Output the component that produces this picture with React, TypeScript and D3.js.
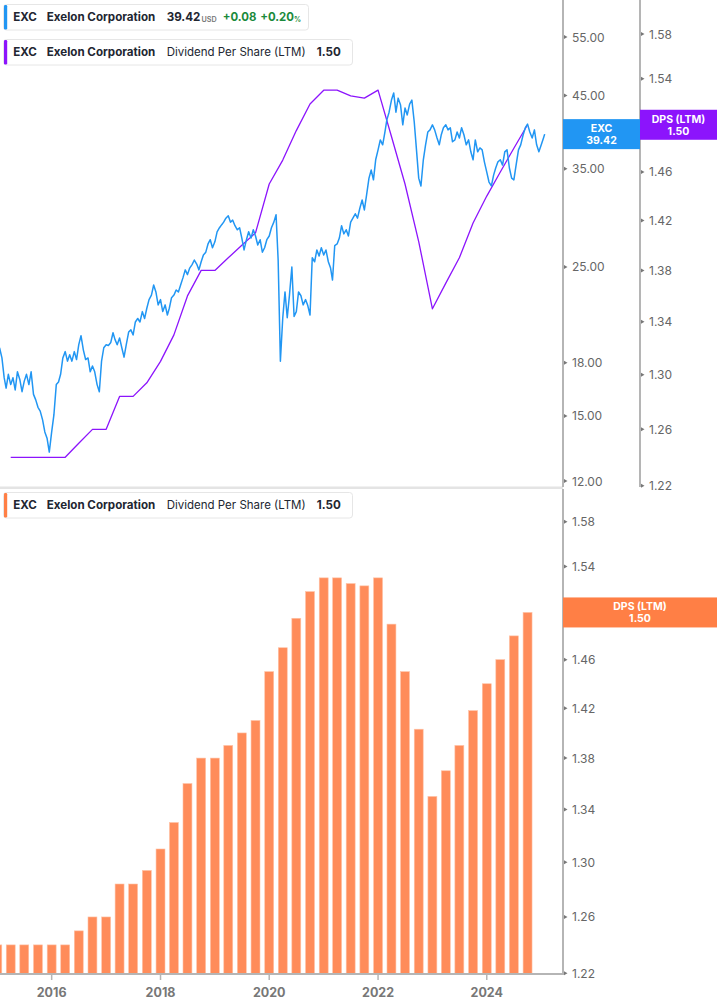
import React from "react";
import * as d3 from "d3";

// ---------- DATA ----------
// EXC price (USD), semi-monthly samples starting 2015-01-16 (1st and 16th of each month)
const priceValues: number[] = [
  // 2015 (from Jan 16)
  18.95, 18.3, 17.1, 16.5, 17.3, 16.7, 17.1, 16.4, 17.45, 17.0, 16.3, 16.9, 17.3, 16.7, 17.45, 16.15, 15.85, 15.45, 15.25, 14.8, 14.2, 13.9, 13.25,
  // 2016
  14.2, 15.05, 16.7, 16.85, 17.3, 18.3, 18.7, 18.1, 18.5, 18.1, 18.7, 18.2, 19.15, 19.75, 18.8, 18.2, 18.3, 17.45, 17.8, 17.45, 16.7, 16.3, 18.1, 18.95,
  // 2017
  19.15, 19.1, 19.3, 19.95, 19.5, 19.15, 19.6, 18.95, 18.35, 19.15, 20.0, 20.15, 19.8, 20.7, 20.95, 20.7, 21.45, 20.95, 21.7, 22.35, 22.7, 23.5, 22.95, 21.95,
  // 2018
  22.35, 21.45, 21.95, 21.2, 21.7, 22.5, 22.7, 23.1, 22.95, 23.5, 24.1, 24.75, 24.35, 24.9, 25.2, 25.6, 25.25, 24.75, 25.45, 26.05, 26.3, 27.05, 27.45, 26.7,
  // 2019
  27.25, 28.2, 28.6, 28.9, 29.15, 29.55, 29.8, 29.15, 29.35, 28.8, 28.4, 28.6, 27.6, 26.5, 27.45, 28.2, 27.6, 28.4, 27.8, 26.95, 27.45, 26.3, 26.7, 27.45,
  // 2020
  27.8, 28.6, 29.15, 29.9, 25.6, 18.1, 21.0, 22.95, 21.0, 22.7, 25.0, 21.1, 21.45, 22.95, 22.65, 21.95, 22.35, 21.9, 21.2, 25.8, 25.45, 26.5, 25.95, 26.7,
  // 2021
  26.05, 26.5, 25.45, 24.9, 23.9, 26.9, 27.05, 27.6, 28.8, 28.0, 28.4, 27.8, 29.15, 29.55, 30.0, 29.55, 30.6, 31.45, 30.4, 32.0, 33.9, 34.85, 33.7, 36.1,
  // 2022
  37.35, 38.65, 38.0, 39.7, 41.4, 42.5, 44.3, 45.4, 42.5, 44.6, 43.55, 40.7, 43.1, 42.1, 43.7, 44.3, 41.1, 37.35, 33.9, 33.0, 36.1, 38.0, 39.7, 40.0,
  // 2023
  40.7, 40.0, 38.9, 38.0, 39.3, 40.3, 40.7, 40.0, 40.3, 38.4, 38.65, 39.7, 38.9, 40.3, 39.3, 38.0, 38.65, 37.1, 36.1, 38.65, 37.1, 37.6, 37.35, 35.85,
  // 2024
  34.6, 33.45, 33.0, 34.25, 35.1, 35.85, 36.1, 35.45, 37.1, 37.35, 35.1, 33.9, 33.7, 35.45, 37.35, 38.0, 39.3, 40.3, 40.8, 39.7, 38.9, 40.0, 38.0, 37.1,
  // 2025
  38.0, 38.9,
];
const lastPriceDate = "2025-01-24";
const lastPrice = 39.42;
const priceChange = "+0.08";
const priceChangePct = "+0.20";

// Dividend per share (LTM), quarterly from 2015-Q1
const dpsStartYear = 2015;
const dpsValues: number[] = [
  1.24, 1.24, 1.24, 1.24, 1.24, 1.24, 1.25, 1.26, 1.26, 1.284,
  1.284, 1.294, 1.31, 1.33, 1.36, 1.38, 1.38, 1.39, 1.40, 1.41,
  1.45, 1.47, 1.495, 1.518, 1.53, 1.53, 1.525, 1.523, 1.53, 1.49,
  1.45, 1.403, 1.35, 1.37, 1.39, 1.418, 1.44, 1.46, 1.48, 1.50,
];
const lastDps = 1.5;

const priceTicks = [12, 15, 18, 25, 35, 45, 55];
const dpsTicks = [1.22, 1.26, 1.30, 1.34, 1.38, 1.42, 1.46, 1.50, 1.54, 1.58];
const yearTicks = [2016, 2018, 2020, 2022, 2024];

// ---------- STYLE ----------
const FONT = "Inter, 'Noto Sans', Roboto, sans-serif";
const BLUE = "#2196f3";
const PURPLE = "#8c14fc";
const ORANGE = "#ff8c5a";
const ORANGE_LABEL = "#ff7f45";
const AXIS = "#b5b5b5";
const TEXT = "#222631";
const TICKTXT = "#666";
const GREEN = "#1b8a3c";

const semiMonthDate = (i: number) => {
  const m = Math.floor((i + 1) / 2);
  const day = (i + 1) % 2 === 0 ? 1 : 16;
  return new Date(2015, m, day);
};

function ValueBox({ x, y, w, fill, line1, line2 }: { x: number; y: number; w: number; fill: string; line1: string; line2: string }) {
  const cx = x + w / 2;
  return (
    <g>
      <rect x={x} y={y - 15} width={w} height={30} fill={fill} />
      <text x={cx} y={y - 2} textAnchor="middle" fontSize={10.5} fontWeight={700} fill="#fff">{line1}</text>
      <text x={cx} y={y + 10} textAnchor="middle" fontSize={10.5} fontWeight={700} fill="#fff">{line2}</text>
    </g>
  );
}

export default function App() {
  const plotRight = 563;
  const x = d3.scaleTime().domain([new Date(2015, 0, 19), new Date(2025, 4, 27)]).range([0, plotRight]);
  const yPrice = d3.scaleLog().domain([12, 55]).range([481, 37]);
  const yDpsTop = d3.scaleLog().domain([1.22, 1.58]).range([485.7, 34]);
  const yDpsBot = d3.scaleLog().domain([1.22, 1.58]).range([973.3, 521.7]);

  const priceData = priceValues.map((v, i) => ({ date: semiMonthDate(i), value: v }));
  priceData.push({ date: d3.timeParse("%Y-%m-%d")(lastPriceDate) as Date, value: lastPrice });

  const dpsData = dpsValues.map((v, i) => ({ date: new Date(dpsStartYear, i * 3, 1), value: v }));
  const x0 = x.domain()[0];

  const priceLine = d3.line<{ date: Date; value: number }>().x((d) => x(d.date)).y((d) => yPrice(d.value))(priceData) || "";
  const dpsLine = d3.line<{ date: Date; value: number }>().x((d) => x(d.date)).y((d) => yDpsTop(d.value))(dpsData.filter((d) => d.date >= x0)) || "";

  const step = x(new Date(2016, 3, 1)) - x(new Date(2016, 0, 1));
  const bw = step * 0.66;
  const fmt2 = d3.format(".2f");

  const tri = (ax: number, y: number) => `M${ax},${y - 2} L${ax + 3.5},${y} L${ax},${y + 2} Z`;

  const yEXC = yPrice(lastPrice);
  const yDT = yDpsTop(lastDps);
  const yDB = yDpsBot(lastDps);
  // tick labels hidden behind the last-value boxes
  const hiddenDps = (t: number) => Math.abs(t - lastDps) < 1e-9;

  return (
    <svg width={717} height={1005} style={{ position: "absolute", left: 0, top: 0, display: "block", background: "#fff" }} fontFamily={FONT}>
      <defs>
        <clipPath id="topClip"><rect x={0} y={0} width={plotRight} height={486} /></clipPath>
        <clipPath id="botClip"><rect x={0} y={489} width={plotRight} height={486} /></clipPath>
      </defs>

      {/* ---------- TOP PANEL ---------- */}
      <g clipPath="url(#topClip)">
        <path d={dpsLine} fill="none" stroke={PURPLE} strokeWidth={1.3} strokeLinejoin="round" />
        <path d={priceLine} fill="none" stroke={BLUE} strokeWidth={1.5} strokeLinejoin="round" />
      </g>

      {/* separator */}
      <rect x={0} y={486.5} width={plotRight} height={2.5} fill="#e4e4e4" />

      {/* price axis */}
      <line x1={plotRight} x2={plotRight} y1={0} y2={487} stroke={AXIS} strokeWidth={2} />
      {priceTicks.map((t) => (
        <g key={"p" + t}>
          <path d={tri(plotRight + 1, yPrice(t))} fill="#777" />
          <text x={572} y={yPrice(t)} dominantBaseline="central" fontSize={12} fill={TICKTXT}>{fmt2(t)}</text>
        </g>
      ))}
      {/* dps axis (top) */}
      <line x1={640} x2={640} y1={0} y2={487} stroke={AXIS} strokeWidth={2} />
      {dpsTicks.map((t) => (
        <g key={"dt" + t}>
          <path d={tri(641, yDpsTop(t))} fill="#777" />
          {!hiddenDps(t) && (
            <text x={649} y={yDpsTop(t)} dominantBaseline="central" fontSize={12} fill={TICKTXT}>{fmt2(t)}</text>
          )}
        </g>
      ))}

      {/* last value labels top */}
      <ValueBox x={plotRight} y={yEXC} w={77} fill={BLUE} line1="EXC" line2={fmt2(lastPrice)} />
      <ValueBox x={640} y={yDT} w={77} fill={PURPLE} line1="DPS (LTM)" line2={fmt2(lastDps)} />

      {/* legends top */}
      <g>
        <rect x={3.5} y={4.5} width={305} height={25.5} rx={3} fill="#fff" stroke="#e6e6e6" />
        <rect x={4} y={5} width={3.2} height={24.5} rx={1.2} fill={BLUE} />
        <text y={17.3} dominantBaseline="central" fontSize={11.6} fontWeight={700} fill={TEXT}>
          <tspan x={13.3}>EXC</tspan>
          <tspan x={46.7}>Exelon Corporation</tspan>
          <tspan x={166.7}>{fmt2(lastPrice)}</tspan>
        </text>
        <text x={201.5} y={19} dominantBaseline="central" fontSize={7.2} fontWeight={600} fill="#777">USD</text>
        <text y={17.3} dominantBaseline="central" fontSize={11.4} fontWeight={700} fill={GREEN}>
          <tspan x={222.7}>{priceChange}</tspan>
          <tspan x={260.2}>{priceChangePct}</tspan>
        </text>
        <text x={294} y={19.5} dominantBaseline="central" fontSize={7} fontWeight={700} fill={GREEN}>%</text>

        <rect x={3.5} y={39.5} width={349} height={25.5} rx={3} fill="#fff" stroke="#e6e6e6" />
        <rect x={4} y={40} width={3.2} height={24.5} rx={1.2} fill={PURPLE} />
        <text y={52} dominantBaseline="central" fontSize={11.6} fontWeight={700} fill={TEXT}>
          <tspan x={13.3}>EXC</tspan>
          <tspan x={46.7}>Exelon Corporation</tspan>
        </text>
        <text x={166.7} y={52} dominantBaseline="central" fontSize={11.5} fontWeight={400} fill={TEXT}>Dividend Per Share (LTM)</text>
        <text x={316.7} y={52} dominantBaseline="central" fontSize={11.6} fontWeight={700} fill={TEXT}>{fmt2(lastDps)}</text>
      </g>

      {/* ---------- BOTTOM PANEL ---------- */}
      <g clipPath="url(#botClip)">
        {dpsData.map((d, i) => {
          const cx = x(d.date);
          const y = yDpsBot(d.value);
          return (
            <rect key={"b" + i} x={cx - bw / 2} y={y} width={bw} height={yDpsBot(1.22) - y + 0.7} fill={ORANGE} stroke="#ffc2a6" strokeWidth={0.6} />
          );
        })}
      </g>

      {/* bottom axes */}
      <line x1={0} x2={plotRight + 1} y1={974} y2={974} stroke={AXIS} strokeWidth={2} />
      <line x1={plotRight} x2={plotRight} y1={489} y2={975} stroke={AXIS} strokeWidth={2} />
      {dpsTicks.map((t) => (
        <g key={"db" + t}>
          <path d={tri(plotRight + 1, yDpsBot(t))} fill="#777" />
          {!hiddenDps(t) && (
            <text x={572} y={yDpsBot(t)} dominantBaseline="central" fontSize={12} fill={TICKTXT}>{fmt2(t)}</text>
          )}
        </g>
      ))}
      {yearTicks.map((yr) => {
        const tx = x(new Date(yr, 0, 1));
        return (
          <g key={"y" + yr}>
            <line x1={tx} x2={tx} y1={974} y2={980} stroke={AXIS} strokeWidth={1.5} />
            <text x={tx} y={992} textAnchor="middle" dominantBaseline="central" fontSize={12.5} fontWeight={700} fill="#777">{yr}</text>
          </g>
        );
      })}

      {/* last value label bottom */}
      <ValueBox x={plotRight} y={yDB} w={154} fill={ORANGE_LABEL} line1="DPS (LTM)" line2={fmt2(lastDps)} />

      {/* legend bottom */}
      <rect x={3.5} y={492.5} width={349} height={25.5} rx={3} fill="#fff" stroke="#e6e6e6" />
      <rect x={4} y={493} width={3.2} height={24.5} rx={1.2} fill={ORANGE_LABEL} />
      <text y={505} dominantBaseline="central" fontSize={11.6} fontWeight={700} fill={TEXT}>
        <tspan x={13.3}>EXC</tspan>
        <tspan x={46.7}>Exelon Corporation</tspan>
      </text>
      <text x={166.7} y={505} dominantBaseline="central" fontSize={11.5} fontWeight={400} fill={TEXT}>Dividend Per Share (LTM)</text>
      <text x={316.7} y={505} dominantBaseline="central" fontSize={11.6} fontWeight={700} fill={TEXT}>{fmt2(lastDps)}</text>
    </svg>
  );
}
